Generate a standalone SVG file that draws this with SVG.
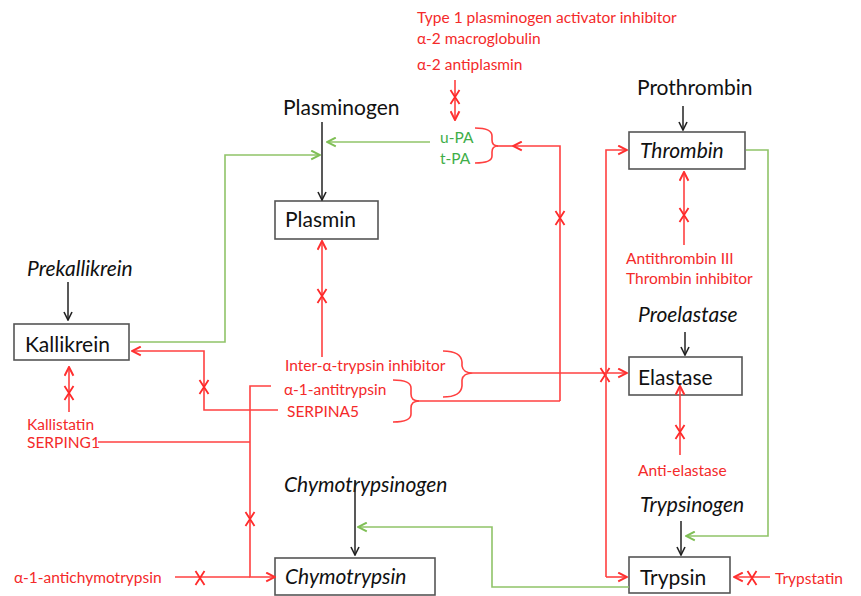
<svg xmlns="http://www.w3.org/2000/svg" width="861" height="596" viewBox="0 0 861 596">
<style>
text{font-family:Lato,"Open Sans","Liberation Sans",sans-serif}
.b{font-size:21px;fill:#111}
.i{font-style:italic}
.r{font-size:15.5px;fill:#f42a2a}
.g{font-size:15.5px;fill:#3fae49}
.box{fill:#fff;stroke:#555;stroke-width:1.6}
.kb{fill:none;stroke:#222;stroke-width:1.5}
.kr{fill:none;stroke:#ff4040;stroke-width:1.6}
.kg{fill:none;stroke:#90c468;stroke-width:1.6}
</style>
<defs>
<marker id="ab" viewBox="0 0 10 10" refX="9" refY="5" markerWidth="10" markerHeight="10" markerUnits="userSpaceOnUse" orient="auto"><path d="M1,1 L9,5 L1,9" fill="none" stroke="#222" stroke-width="1.6"/></marker>
<marker id="ar" viewBox="0 0 10 10" refX="9" refY="5" markerWidth="11" markerHeight="11" markerUnits="userSpaceOnUse" orient="auto"><path d="M1,1 L9,5 L1,9" fill="none" stroke="#ff3030" stroke-width="1.8"/></marker>
<marker id="ag" viewBox="0 0 10 10" refX="9" refY="5" markerWidth="11" markerHeight="11" markerUnits="userSpaceOnUse" orient="auto"><path d="M1,1 L9,5 L1,9" fill="none" stroke="#7fbf55" stroke-width="1.8"/></marker>
<path id="x" d="M-4.5,-7 L4.5,7 M4.5,-7 L-4.5,7" fill="none" stroke="#ff2a2a" stroke-width="1.8"/>
</defs>

<g id="inhibitors-plasmin"><text class="r" x="417" y="23">Type 1 plasminogen activator inhibitor</text><text class="r" x="417" y="44">α-2 macroglobulin</text><text class="r" x="417" y="70">α-2 antiplasmin</text></g>
<g id="activators"><text class="g" x="440" y="143">u-PA</text><text class="g" x="440" y="164">t-PA</text></g>
<g id="plasminogen"><text class="b" x="283" y="115">Plasminogen</text></g>
<g id="plasmin"><rect class="box" x="275" y="201" width="103" height="38"/><text class="b" x="285" y="227">Plasmin</text></g>
<g id="prekallikrein"><text class="b i" x="27" y="276">Prekallikrein</text></g>
<g id="kallikrein"><rect class="box" x="14" y="324" width="115" height="36"/><text class="b" x="25" y="352">Kallikrein</text></g>
<g id="kallistatin"><text class="r" x="27" y="430">Kallistatin</text><text class="r" x="27" y="448">SERPING1</text></g>
<g id="inhibitors-mid"><text class="r" x="285" y="371">Inter-α-trypsin inhibitor</text><text class="r" x="284" y="395">α-1-antitrypsin</text><text class="r" x="287" y="417">SERPINA5</text></g>
<g id="chymotrypsinogen"><text class="b i" x="284" y="492">Chymotrypsinogen</text></g>
<g id="chymotrypsin"><rect class="box" x="275" y="558" width="160" height="37"/><text class="b i" x="285" y="584">Chymotrypsin</text></g>
<g id="antichymotrypsin"><text class="r" x="14" y="583">α-1-antichymotrypsin</text></g>
<g id="prothrombin"><text class="b" x="637" y="95">Prothrombin</text></g>
<g id="thrombin"><rect class="box" x="629" y="132" width="116" height="37"/><text class="b i" x="640" y="158">Thrombin</text></g>
<g id="antithrombin"><text class="r" x="626" y="264">Antithrombin III</text><text class="r" x="626" y="284">Thrombin inhibitor</text></g>
<g id="proelastase"><text class="b i" x="638" y="322">Proelastase</text></g>
<g id="elastase"><rect class="box" x="629" y="357" width="113" height="38"/><text class="b" x="638" y="385">Elastase</text></g>
<g id="antielastase"><text class="r" x="638" y="476">Anti-elastase</text></g>
<g id="trypsinogen"><text class="b i" x="640" y="512">Trypsinogen</text></g>
<g id="trypsin"><rect class="box" x="629" y="557" width="101" height="36"/><text class="b" x="640" y="585">Trypsin</text></g>
<g id="trypstatin"><text class="r" x="775" y="584">Trypstatin</text></g>

<g id="connectors">
<path class="kb" d="M322,122 V200" marker-end="url(#ab)"/>
<path class="kb" d="M68,282 V320" marker-end="url(#ab)"/>
<path class="kb" d="M355,480 V555" marker-end="url(#ab)"/>
<path class="kb" d="M683,106 V130" marker-end="url(#ab)"/>
<path class="kb" d="M685,332 V355" marker-end="url(#ab)"/>
<path class="kb" d="M681,521 V555" marker-end="url(#ab)"/>
<path class="kg" d="M130,342 H225 V155 H320" marker-end="url(#ag)"/>
<path class="kg" d="M430,142 H327" marker-end="url(#ag)"/>
<path class="kg" d="M746,150 H768 V536 H686" marker-end="url(#ag)"/>
<path class="kg" d="M629,587 H492 V527 H358" marker-end="url(#ag)"/>
<path class="kr" d="M455,80 V120" marker-end="url(#ar)"/>
<use href="#x" x="455" y="97"/>
<path class="kr" d="M475,128 Q492,128 492,136 V140 Q492,146 498,146 Q492,146 492,152 V156 Q492,163 475,163"/>
<path class="kr" d="M560,401 V146 H513" marker-end="url(#ar)"/>
<path class="kr" d="M513,146 H497"/>
<use href="#x" x="560" y="218"/>
<path class="kr" d="M322,357 V241" marker-end="url(#ar)"/>
<use href="#x" x="322" y="296"/>
<path class="kr" d="M684,245 V172" marker-end="url(#ar)"/>
<use href="#x" x="684" y="215"/>
<path class="kr" d="M680,455 V386" marker-end="url(#ar)"/>
<use href="#x" x="680" y="432"/>
<path class="kr" d="M69,412 V367" marker-end="url(#ar)"/>
<use href="#x" x="69" y="393"/>
<path class="kr" d="M278,410 H204 V351 H132" marker-end="url(#ar)"/>
<use href="#x" x="204" y="387"/>
<path class="kr" d="M98,442 H250"/>
<path class="kr" d="M271,386 H250 V577 H275" marker-end="url(#ar)"/>
<use href="#x" x="250" y="519"/>
<path class="kr" d="M175,577 H250"/>
<use href="#x" x="200" y="578"/>
<path class="kr" d="M443,351 Q461,351 462,362 V366 Q463,373 473,373 Q463,373 462,380 V386 Q461,397 443,397"/>
<path class="kr" d="M473,373 H627" marker-end="url(#ar)"/>
<use href="#x" x="605" y="375"/>
<path class="kr" d="M393,380 Q411,380 411,388 V394 Q411,401 419,401 Q411,401 411,408 V414 Q411,422 393,422"/>
<path class="kr" d="M417,401 H560"/>
<path class="kr" d="M606,577 V150 H627" marker-end="url(#ar)"/>
<path class="kr" d="M606,577 H627" marker-end="url(#ar)"/>
<path class="kr" d="M770,577 H734" marker-end="url(#ar)"/>
<use href="#x" x="752" y="578"/>
</g>
</svg>
